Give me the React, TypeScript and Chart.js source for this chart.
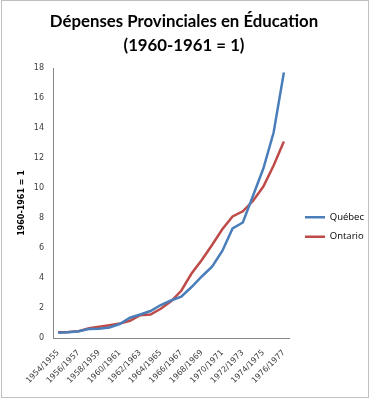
import React, { useEffect, useRef } from 'react';
import { Chart, registerables } from 'chart.js';

Chart.register(...registerables);

const categories = [
  '1954/1955', '1955/1956', '1956/1957', '1957/1958', '1958/1959', '1959/1960',
  '1960/1961', '1961/1962', '1962/1963', '1963/1964', '1964/1965', '1965/1966',
  '1966/1967', '1967/1968', '1968/1969', '1969/1970', '1970/1971', '1971/1972',
  '1972/1973', '1973/1974', '1974/1975', '1975/1976', '1976/1977',
];
const quebec = [0.35, 0.38, 0.45, 0.6, 0.62, 0.7, 0.93, 1.35, 1.57, 1.8, 2.2, 2.5, 2.75, 3.4, 4.1, 4.75, 5.8, 7.3, 7.7, 9.5, 11.3, 13.7, 17.7];
const ontario = [0.38, 0.4, 0.45, 0.65, 0.75, 0.85, 0.96, 1.15, 1.52, 1.56, 1.95, 2.45, 3.15, 4.3, 5.2, 6.2, 7.25, 8.1, 8.45, 9.15, 10.1, 11.5, 13.1];
const titleLines = ['Dépenses Provinciales en Éducation', '(1960-1961 = 1)'];
const yAxisTitle = '1960-1961 = 1';
const seriesNames = ['Québec', 'Ontario'];
const yMin = 0;
const yMax = 18;
const yStep = 2;

const framePlugin = {
  id: 'frame',
  afterLayout(chart: any) {
    const lg = chart.legend;
    if (!lg) return;
    const dx = chart.chartArea.right + 6 - lg.left;
    const dy = 227 - (lg.top + lg.bottom) / 2;
    lg.left += dx;
    lg.right += dx;
    lg.top += dy;
    lg.bottom += dy;
  },
  beforeDraw(chart: any) {
    const ctx = chart.ctx;
    ctx.save();
    ctx.fillStyle = '#ffffff';
    ctx.fillRect(0, 0, chart.width, chart.height);
    ctx.restore();
  },
  afterDraw(chart: any) {
    const ctx = chart.ctx;
    ctx.save();
    ctx.strokeStyle = '#c0c0c0';
    ctx.lineWidth = 1;
    ctx.strokeRect(1.5, 0.5, 367, 397);
    ctx.restore();
  },
};

export default function App() {
  const ref = useRef<HTMLCanvasElement | null>(null);
  useEffect(() => {
    if (!ref.current) return;
    const chart = new Chart(ref.current, {
      type: 'line',
      data: {
        labels: categories,
        datasets: [
          {
            label: seriesNames[0],
            data: quebec,
            borderColor: '#4A7EBB',
            backgroundColor: '#4A7EBB',
            borderWidth: 2.5,
            pointRadius: 0,
            tension: 0,
          },
          {
            label: seriesNames[1],
            data: ontario,
            borderColor: '#BE4B48',
            backgroundColor: '#BE4B48',
            borderWidth: 2.5,
            pointRadius: 0,
            tension: 0,
          },
        ],
      },
      options: {
        animation: false,
        responsive: false,
        devicePixelRatio: 1,
        layout: { padding: { left: 0, right: 4, top: 0, bottom: 0 } },
        plugins: {
          title: {
            display: true,
            text: titleLines,
            color: '#000000',
            font: { family: 'Lato', size: 16.8, weight: 'bold', lineHeight: '24px' },
            padding: { top: 10, bottom: 10 },
          },
          legend: {
            display: true,
            position: 'right',
            labels: {
              usePointStyle: true,
              pointStyle: 'line',
              pointStyleWidth: 20,
              boxHeight: 10,
              color: '#000000',
              font: { family: 'Open Sans', size: 9.5 },
              padding: 10,
            },
          },
          tooltip: { enabled: false },
        },
        scales: {
          x: {
            offset: true,
            grid: { display: true, drawOnChartArea: false, drawTicks: false },
            border: { display: true, color: '#868686', width: 1 },
            ticks: {
              autoSkip: false,
              minRotation: 45,
              maxRotation: 45,
              color: '#404040',
              font: { family: 'DejaVu Sans', size: 8 },
              padding: 10,
              callback: (_v: any, i: number) => (i % 2 === 0 ? categories[i] : ''),
            },
            afterFit: (s: any) => { s.height = 62; },
          },
          y: {
            min: yMin,
            max: yMax,
            grid: { display: true, drawOnChartArea: false, drawTicks: false },
            border: { display: true, color: '#868686', width: 1 },
            ticks: {
              stepSize: yStep,
              color: '#404040',
              font: { family: 'DejaVu Sans', size: 8 },
              padding: 9,
            },
            title: {
              display: true,
              text: yAxisTitle,
              color: '#000000',
              font: { family: 'DejaVu Sans', size: 8, weight: 'bold' },
              padding: { top: 17, bottom: 0 },
            },
            afterFit: (s: any) => { s.width = 53; },
          },
        },
      },
      plugins: [framePlugin],
    });
    return () => chart.destroy();
  }, []);
  return (
    <div style={{ position: 'fixed', left: 0, top: 0, width: 372, height: 400 }}>
      <canvas ref={ref} width={372} height={400} />
    </div>
  );
}
